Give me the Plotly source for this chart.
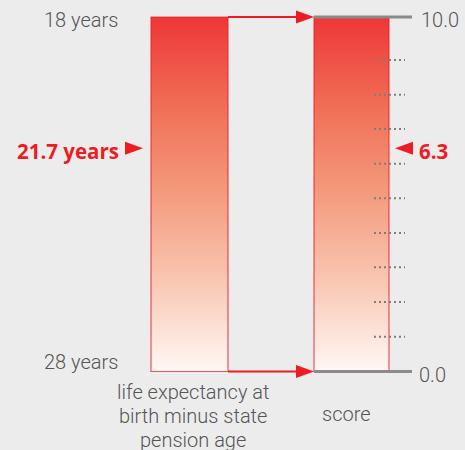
import numpy as np
import plotly.graph_objects as go

# ---------------- data ----------------
categories = ["life expectancy at<br>birth minus state<br>pension age", "score"]
years_scale = [18, 28]            # value at top, value at bottom of the left bar
score_scale = [0.0, 10.0]         # bottom, top of the right bar
years_value = 21.7
score_value = 6.3
minor_ticks = [0.98, 1.96, 2.94, 3.91, 4.89, 5.86, 6.84, 7.81, 8.79]
years_tick_labels = ["18 years", "28 years"]
score_tick_labels = ["0.0", "10.0"]
value_labels = ["21.7 years", "6.3"]

# ---------------- style / layout ----------------
W, H = 465, 450
PX = 35.45                       # pixels per score unit
Y_TOP_PX = 17
ymax = score_scale[1] + Y_TOP_PX / PX
ymin = ymax - H / PX

RED = "#ED1C24"
GRAY_TXT = "#555555"
GRAY_LINE = "#8a8a8a"
DOT_GRAY = "#7d7d7d"
BG = "#ececec"
FONT = "Roboto"
BFONT = "Open Sans"

left_bar = (151, 228)
right_bar = (314, 389)
axis_line = (314, 412)
minor_x = (374, 405)

def years_to_score(v):
    return score_scale[1] - (v - years_scale[0]) * (score_scale[1] - score_scale[0]) / (years_scale[1] - years_scale[0])

grad = [[0.0, "rgb(255,248,245)"], [0.25, "rgb(249,200,180)"], [0.5, "rgb(244,155,125)"],
        [0.75, "rgb(240,110,85)"], [1.0, "rgb(238,55,55)"]]

N = 200
yedges = np.linspace(score_scale[0], score_scale[1], N + 1)
ycent = (yedges[:-1] + yedges[1:]) / 2

fig = go.Figure()
for (x0, x1) in (left_bar, right_bar):
    fig.add_trace(go.Heatmap(x=[x0, x1], y=yedges, z=ycent.reshape(-1, 1),
                             colorscale=grad, zmin=score_scale[0], zmax=score_scale[1],
                             showscale=False, hoverinfo="skip"))

# outlines of bars
fig.add_trace(go.Bar(x=[sum(left_bar) / 2, sum(right_bar) / 2],
                     y=[score_scale[1] - score_scale[0]] * 2, base=score_scale[0],
                     width=[left_bar[1] - left_bar[0], right_bar[1] - right_bar[0]],
                     marker=dict(color="rgba(0,0,0,0)", line=dict(color="rgba(237,28,36,0.75)", width=1.2)),
                     hoverinfo="skip"))

shapes = []
# gray axis lines at 0 and 10
for v in score_scale:
    shapes.append(dict(type="line", xref="x", yref="y", x0=axis_line[0], x1=axis_line[1], y0=v, y1=v,
                       line=dict(color=GRAY_LINE, width=3)))
# minor dotted ticks
for v in minor_ticks:
    shapes.append(dict(type="line", xref="x", yref="y", x0=minor_x[0], x1=minor_x[1], y0=v, y1=v,
                       line=dict(color=DOT_GRAY, width=2, dash="2px,3px")))

# connector arrows from left bar to right bar (top and bottom)
ah_len = 18
ah_half = 6.5 / PX
for yv in (years_to_score(years_scale[0]), years_to_score(years_scale[1])):
    shapes.append(dict(type="line", xref="x", yref="y", x0=left_bar[1], x1=right_bar[0] - ah_len + 2,
                       y0=yv, y1=yv, line=dict(color=RED, width=2.2)))
    shapes.append(dict(type="path", xref="x", yref="y",
                       path=f"M{right_bar[0]-ah_len},{yv-ah_half} L{right_bar[0]},{yv} L{right_bar[0]-ah_len},{yv+ah_half} Z",
                       fillcolor=RED, line=dict(width=0)))

# value pointers
yv_left = years_to_score(years_value)
tx0 = 125
shapes.append(dict(type="path", xref="x", yref="y",
                   path=f"M{tx0},{yv_left-ah_half} L{tx0+ah_len},{yv_left} L{tx0},{yv_left+ah_half} Z",
                   fillcolor=RED, line=dict(width=0)))
tx1 = 395
shapes.append(dict(type="path", xref="x", yref="y",
                   path=f"M{tx1+ah_len},{score_value-ah_half} L{tx1},{score_value} L{tx1+ah_len},{score_value+ah_half} Z",
                   fillcolor=RED, line=dict(width=0)))

ann = []
reg = dict(family=FONT, size=20, color=GRAY_TXT, weight=300)
bold = dict(family=BFONT, size=20.5, color=RED, weight="bold")
ann.append(dict(x=120, y=years_to_score(years_scale[0]), text=years_tick_labels[0], xanchor="right",
                yanchor="middle", yshift=-3, font=reg, showarrow=False))
ann.append(dict(x=120, y=years_to_score(years_scale[1]), text=years_tick_labels[1], xanchor="right",
                yanchor="middle", yshift=10, font=reg, showarrow=False))
ann.append(dict(x=419, y=score_scale[1], text=score_tick_labels[1], xanchor="left",
                yanchor="middle", yshift=-3, font=reg, showarrow=False))
ann.append(dict(x=417, y=score_scale[0], text=score_tick_labels[0], xanchor="left",
                yanchor="middle", yshift=-3, font=reg, showarrow=False))
ann.append(dict(x=121, y=yv_left, text=value_labels[0], xanchor="right",
                yanchor="middle", yshift=-3, font=bold, showarrow=False))
ann.append(dict(x=417, y=score_value, text=value_labels[1], xanchor="left",
                yanchor="middle", yshift=-3, font=bold, showarrow=False))
# category labels under the bars, one annotation per line
for i, line in enumerate(categories[0].split("<br>")):
    ann.append(dict(x=193, y=score_scale[0], text=line, xanchor="center", yanchor="middle",
                    yshift=-(20 + 24 * i), font=reg, showarrow=False))
ann.append(dict(x=346, y=score_scale[0], text=categories[1], xanchor="center", yanchor="middle",
                yshift=-42, font=reg, showarrow=False))

fig.update_layout(
    width=W, height=H, margin=dict(l=0, r=0, t=0, b=0),
    paper_bgcolor=BG, plot_bgcolor=BG, showlegend=False, barmode="overlay",
    xaxis=dict(range=[0, W], visible=False, fixedrange=True),
    yaxis=dict(range=[ymin, ymax], visible=False, fixedrange=True),
    shapes=shapes, annotations=ann,
)

fig.write_html("out.html", config={"displayModeBar": False},
               post_script="document.body.style.margin='0';document.body.style.overflow='hidden';")
